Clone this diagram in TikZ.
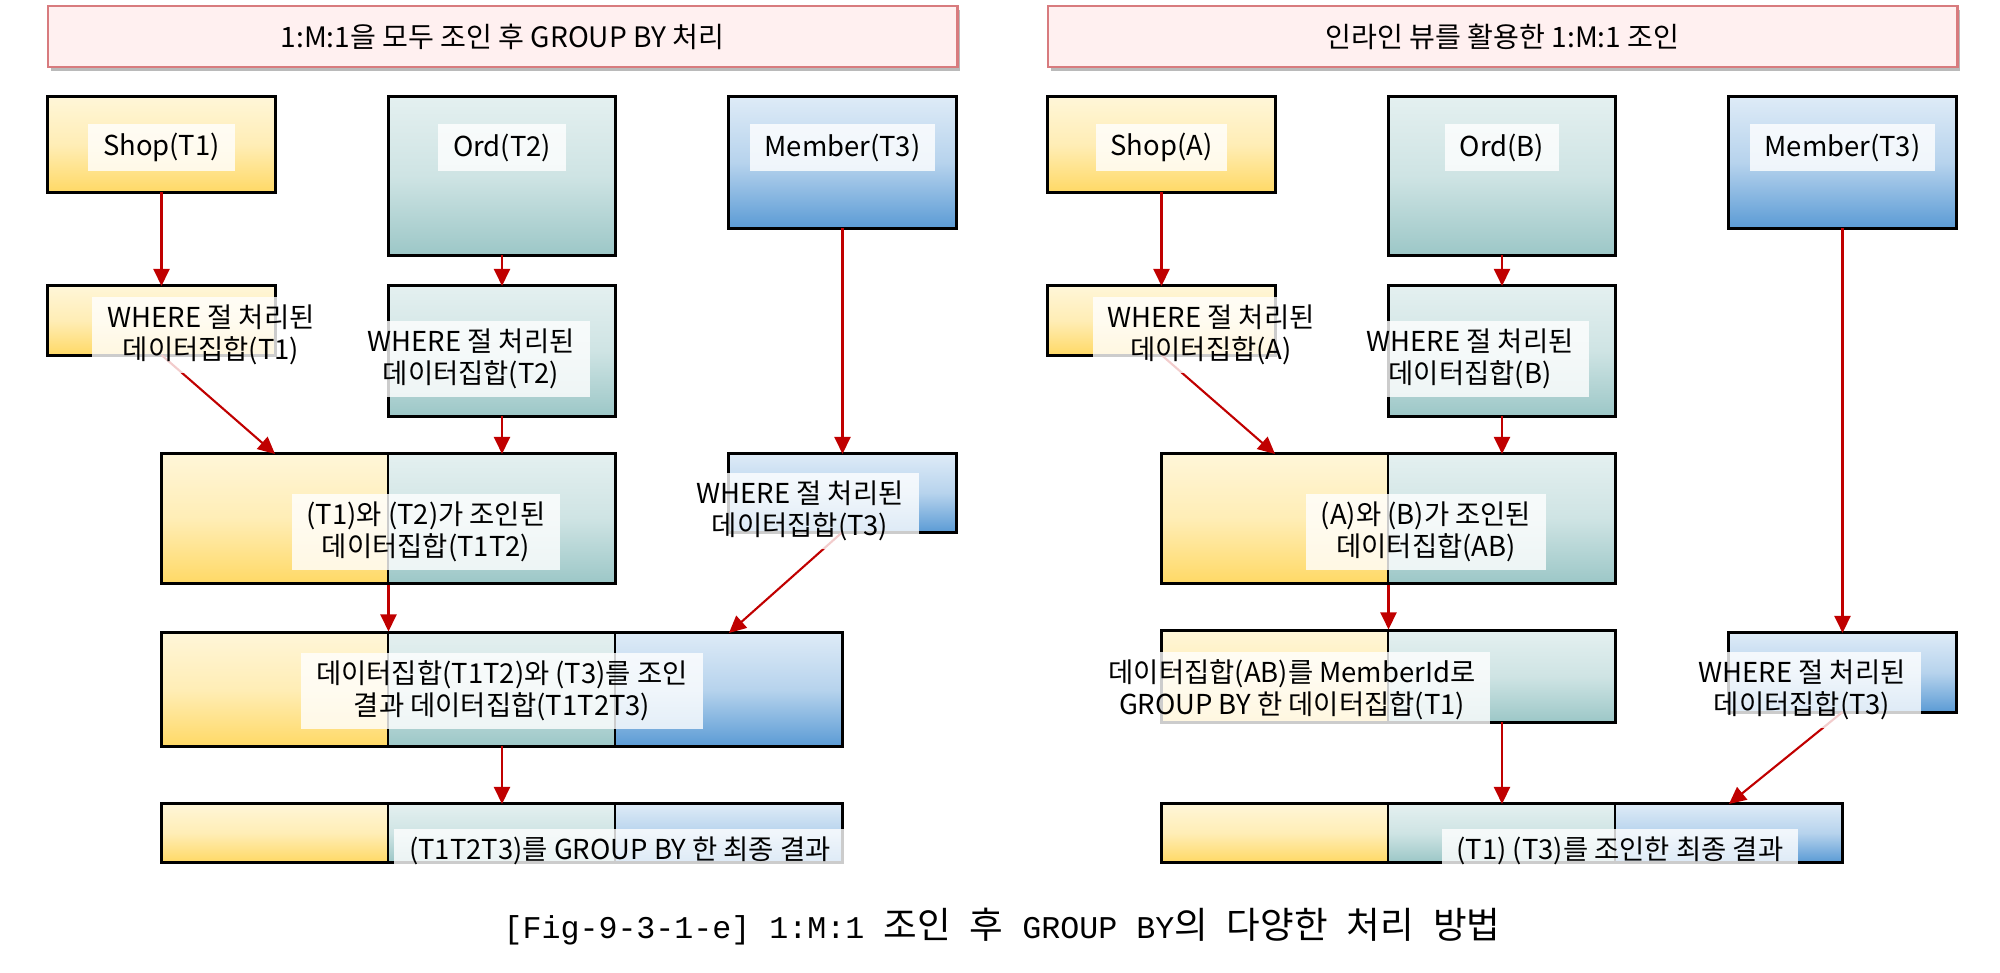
\documentclass[tikz,border=0pt]{standalone}
\usepackage{fontspec}
\setmainfont{Noto Sans CJK KR}
\newfontfamily\kcap{Noto Sans CJK KR}
\newfontfamily\capmono{Liberation Mono}
\usetikzlibrary{arrows.meta,positioning,fit,shadows}
\definecolor{shopTop}{HTML}{FFF6D8}
\definecolor{shopBot}{HTML}{FFD966}
\definecolor{ordTop}{HTML}{E4F0F0}
\definecolor{ordBot}{HTML}{9CC7C7}
\definecolor{memTop}{HTML}{DEEBF7}
\definecolor{memBot}{HTML}{5B9BD5}
\definecolor{headfill}{HTML}{FFF0F0}
\definecolor{headline}{HTML}{D87B7E}
\definecolor{arrowred}{HTML}{C00000}
\newcommand\krcap[1]{{\fontsize{10.4}{11}\selectfont\kcap #1}}
\tikzset{
  tbl/.style={draw=black,line width=0.85pt,minimum width=2.27cm,inner sep=0pt,outer sep=0pt},
  ytbl/.style={tbl,top color=shopTop,bottom color=shopBot,middle color=shopTop!70!shopBot},
  gtbl/.style={tbl,top color=ordTop,bottom color=ordBot,middle color=ordTop!70!ordBot},
  btbl/.style={tbl,top color=memTop,bottom color=memBot,middle color=memTop!70!memBot},
  cell/.style={line width=0.55pt},
  ycell/.style={ytbl,cell},
  gcell/.style={gtbl,cell},
  bcell/.style={btbl,cell},
  frame/.style={draw=black,line width=0.85pt,inner sep=0pt},
  headbox/.style={draw=headline,fill=headfill,line width=0.7pt,minimum width=9.09cm,
    minimum height=0.61cm,font=\fontsize{8}{9.5}\selectfont,
    drop shadow={shadow xshift=0.9pt,shadow yshift=-1.2pt,fill=black!45,opacity=0.6}},
  tag/.style={fill=white,fill opacity=0.8,text opacity=1,align=center,
    font=\fontsize{7.8}{9.1}\selectfont,inner xsep=0.15cm,inner ysep=0.08cm},
  ntag/.style={tag,minimum height=0.47cm},
  flow/.style={-{Triangle[length=1.7mm,width=1.6mm]},line width=0.6pt,draw=arrowred},
  figcap/.style={font=\fontsize{9}{11}\selectfont\capmono,inner sep=0pt},
}
\begin{document}
\begin{tikzpicture}[x=0.01cm,y=-0.01cm]
  \useasboundingbox (0,0) rectangle (2000,973);
  % --- left: join all, then group by ---
  \node[headbox] (headL) at (502.5,36.5) {1:M:1을 모두 조인 후 GROUP BY 처리};
  \node[ytbl,minimum height=0.95cm] (shopL) at (161.5,144.5) {};
  \node[gtbl,minimum height=1.58cm] (ordL) at (502,176) {};
  \node[btbl,minimum height=1.31cm] (memL) at (842.5,162.5) {};
  \node[ytbl,minimum height=0.69cm] (whereL1) at (161.5,320.5) {};
  \node[gtbl,minimum height=1.30cm] (whereL2) at (502,351) {};
  \node[btbl,minimum height=0.78cm] (whereL3) at (842.5,493) {};
  \node[ycell,minimum height=1.29cm] (joinLa) at (275,518.5) {};
  \node[gcell,minimum height=1.29cm] (joinLb) at (502,518.5) {};
  \node[frame,fit=(joinLa)(joinLb)] (joinL) {};
  \node[ycell,minimum height=1.13cm] (allLa) at (275,689.5) {};
  \node[gcell,minimum height=1.13cm] (allLb) at (502,689.5) {};
  \node[bcell,minimum height=1.13cm] (allLc) at (729,689.5) {};
  \node[frame,fit=(allLa)(allLc)] (allL) {};
  \node[ycell,minimum height=0.58cm] (finalLa) at (275,833) {};
  \node[gcell,minimum height=0.58cm] (finalLb) at (502,833) {};
  \node[bcell,minimum height=0.58cm] (finalLc) at (729,833) {};
  \node[frame,fit=(finalLa)(finalLc)] (finalL) {};
  \draw[flow] (shopL) -- (whereL1);
  \draw[flow] (ordL) -- (whereL2);
  \draw[flow] (memL) -- (whereL3);
  \draw[flow] (whereL1.south) -- (joinLa.north);
  \draw[flow] (whereL2) -- (joinLb);
  \draw[flow] (joinL.south) -- (joinL.south |- allL.north);
  \draw[flow] (whereL3.south) -- (allLc.north);
  \draw[flow] (allLb) -- (finalLb);
  \node[ntag] (tShopL) at (161.5,147.5) {Shop(T1)};
  \node[ntag] (tOrdL) at (502,147.5) {Ord(T2)};
  \node[ntag] (tMemL) at (842.5,147.5) {Member(T3)};
  \node[tag] (tWhereL1) at (211,335) {WHERE 절 처리된\\데이터집합(T1)};
  \node[tag] (tWhereL2) at (471,359) {WHERE 절 처리된\\데이터집합(T2)};
  \node[tag] (tWhereL3) at (800,511) {WHERE 절 처리된\\데이터집합(T3)};
  \node[tag] (tJoinL) at (426,532) {(T1)와 (T2)가 조인된\\데이터집합(T1T2)};
  \node[tag] (tAllL) at (502,691) {데이터집합(T1T2)와 (T3)를 조인\\결과 데이터집합(T1T2T3)};
  \node[tag] (tFinalL) at (620,851) {(T1T2T3)를 GROUP BY 한 최종 결과};
  % --- right: inline view ---
  \node[headbox] (headR) at (1502.5,36.5) {인라인 뷰를 활용한 1:M:1 조인};
  \node[ytbl,minimum height=0.95cm] (shopR) at (1161.5,144.5) {};
  \node[gtbl,minimum height=1.58cm] (ordR) at (1502,176) {};
  \node[btbl,minimum height=1.31cm] (memR) at (1842.5,162.5) {};
  \node[ytbl,minimum height=0.69cm] (whereRA) at (1161.5,320.5) {};
  \node[gtbl,minimum height=1.30cm] (whereRB) at (1502,351) {};
  \node[ycell,minimum height=1.29cm] (joinRa) at (1275,518.5) {};
  \node[gcell,minimum height=1.29cm] (joinRb) at (1502,518.5) {};
  \node[frame,fit=(joinRa)(joinRb)] (joinR) {};
  \node[ycell,minimum height=0.91cm] (groupRa) at (1275,676.5) {};
  \node[gcell,minimum height=0.91cm] (groupRb) at (1502,676.5) {};
  \node[frame,fit=(groupRa)(groupRb)] (groupR) {};
  \node[btbl,minimum height=0.79cm] (whereR3) at (1842.5,672.5) {};
  \node[ycell,minimum height=0.58cm] (finalRa) at (1275,833) {};
  \node[gcell,minimum height=0.58cm] (finalRb) at (1502,833) {};
  \node[bcell,minimum height=0.58cm] (finalRc) at (1729,833) {};
  \node[frame,fit=(finalRa)(finalRc)] (finalR) {};
  \draw[flow] (shopR) -- (whereRA);
  \draw[flow] (ordR) -- (whereRB);
  \draw[flow] (memR) -- (whereR3);
  \draw[flow] (whereRA.south) -- (joinRa.north);
  \draw[flow] (whereRB) -- (joinRb);
  \draw[flow] (joinR) -- (groupR);
  \draw[flow] (groupRb) -- (finalRb);
  \draw[flow] (whereR3.south) -- (finalRc.north);
  \node[ntag] (tShopR) at (1161.5,147.5) {Shop(A)};
  \node[ntag] (tOrdR) at (1502,147.5) {Ord(B)};
  \node[ntag] (tMemR) at (1842.5,147.5) {Member(T3)};
  \node[tag] (tWhereRA) at (1211,335) {WHERE 절 처리된\\데이터집합(A)};
  \node[tag] (tWhereRB) at (1470,359) {WHERE 절 처리된\\데이터집합(B)};
  \node[tag] (tJoinR) at (1426,532) {(A)와 (B)가 조인된\\데이터집합(AB)};
  \node[tag] (tGroupR) at (1292,690) {데이터집합(AB)를 MemberId로\\GROUP BY 한 데이터집합(T1)};
  \node[tag] (tWhereR3) at (1802,690) {WHERE 절 처리된\\데이터집합(T3)};
  \node[tag] (tFinalR) at (1620,851) {(T1) (T3)를 조인한 최종 결과};
  % caption
  \node[figcap] (caption) at (1002,927)
    {[Fig-9-3-1-e] 1:M:1 \krcap{조인} \krcap{후} GROUP BY\krcap{의} \krcap{다양한} \krcap{처리} \krcap{방법}};
\end{tikzpicture}
\end{document}
